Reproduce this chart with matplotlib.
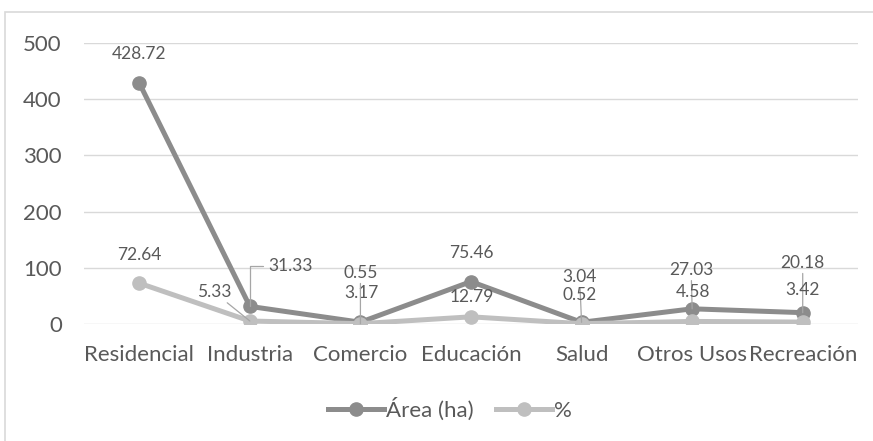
import matplotlib
matplotlib.use("Agg")
import matplotlib.pyplot as plt
from matplotlib.patches import Rectangle

categories = ["Residencial", "Industria", "Comercio", "Educación", "Salud", "Otros Usos", "Recreación"]
area_ha = [428.72, 31.33, 3.17, 75.46, 3.04, 27.03, 20.18]
porcentaje = [72.64, 5.33, 0.55, 12.79, 0.52, 4.58, 3.42]
yticks = [0, 100, 200, 300, 400, 500]

plt.rcParams["font.family"] = ["Lato", "DejaVu Sans"]
text_color = "#595959"
dark = "#8c8c8c"
light = "#bfbfbf"
leader = "#a6a6a6"

fig = plt.figure(figsize=(8.73, 4.41), dpi=100)
ax = fig.add_axes([84 / 873, 1 - 324 / 441, (858 - 84) / 873, (324 - 43) / 441])

# chart frame (cut off at the right and bottom like the source)
fig.patches.append(Rectangle((5 / 873, -0.05), 1.0, 1 - 12 / 441 + 0.05,
                             transform=fig.transFigure, fill=False,
                             edgecolor="#d9d9d9", lw=1.2))

x = list(range(len(categories)))
ax.plot(x, area_ha, color=dark, lw=3.6, marker="o", ms=9.5, label="Área (ha)", zorder=3)
ax.plot(x, porcentaje, color=light, lw=3.6, marker="o", ms=9.5, label="%", zorder=4)

ax.set_xlim(-0.5, len(categories) - 0.5)
ax.set_ylim(0, 500)
ax.set_yticks(yticks)
ax.set_xticks(x)
ax.set_xticklabels(categories)
ax.grid(axis="y", color="#d9d9d9", lw=1)
ax.set_axisbelow(True)
for s in ax.spines.values():
    s.set_visible(False)
ax.tick_params(length=0, labelsize=16, colors=text_color)
ax.tick_params(axis="y", pad=16)
ax.tick_params(axis="x", pad=15)

# label offsets in pixels (dx, dy) and whether a leader line is drawn
area_off = [(0, 29), (41, 40), (1, 29), (0, 29), (-2, 45), (-1, 39), (0, 50)]
area_lead = [None, "elbow", None, None, "line", "line", "line"]
pct_off = [(0, 28), (-36, 29), (0, 51), (1, 20), (-2, 29), (1, 29), (0, 32)]
pct_lead = [None, "line", "line", None, None, None, None]

def put_labels(vals, offs, leads):
    for i, (v, (dx, dy), ld) in enumerate(zip(vals, offs, leads)):
        kw = {}
        if ld == "line":
            kw["arrowprops"] = dict(arrowstyle="-", color=leader, lw=0.9,
                                    shrinkA=0, shrinkB=0)
        elif ld == "elbow":
            kw["arrowprops"] = dict(arrowstyle="-", color=leader, lw=0.9,
                                    shrinkA=2, shrinkB=0, relpos=(0, 0.5),
                                    connectionstyle="angle,angleA=0,angleB=90,rad=0")
        ax.annotate("{:.2f}".format(v), (i, v), xytext=(dx, dy),
                    textcoords="offset pixels", ha="center", va="center",
                    fontsize=12.5, color=text_color, zorder=5, **kw)

put_labels(area_ha, area_off, area_lead)
put_labels(porcentaje, pct_off, pct_lead)

fig.legend(loc="center", bbox_to_anchor=(450 / 873, 1 - 409 / 441), ncol=2,
           frameon=False, fontsize=16, handlelength=2.5, columnspacing=1.0,
           handletextpad=0.1, labelcolor=text_color)

fig.savefig("out.png", dpi=100)
